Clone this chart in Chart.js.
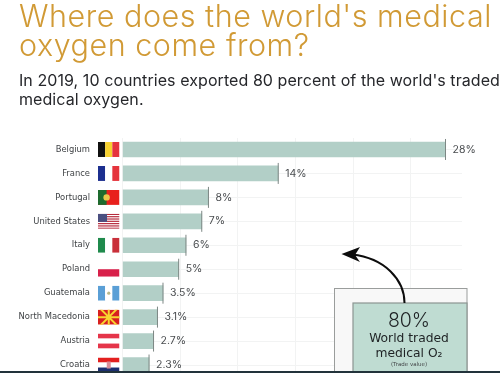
<!DOCTYPE html>
<html>
<head>
<meta charset="utf-8">
<style>
html,body{margin:0;padding:0;background:#fff;width:500px;height:373px;overflow:hidden;position:relative}
.t{position:absolute;left:19px;white-space:nowrap;filter:blur(.3px)}
#h1{top:2px;font:300 30.5px/28.5px "Inter",sans-serif;letter-spacing:.53px;color:#d19a35;}
#h2{top:70.5px;font:400 16px/19.5px "Inter",sans-serif;letter-spacing:.07px;color:#26272b;}
#wrap{position:absolute;left:0;top:130px;width:500px;height:247px;filter:blur(.35px)}
#bar{position:absolute;left:0;top:371px;width:500px;height:2px;background:#22333b}
</style>
<script src="https://cdn.jsdelivr.net/npm/chart.js@4"></script>
</head>
<body>
<div class="t" id="h1">Where does the world's medical<br>oxygen come from?</div>
<div class="t" id="h2">In 2019, 10 countries exported 80 percent of the world's traded<br>medical oxygen.</div>
<div id="wrap"><canvas id="c" width="500" height="247"></canvas></div>
<div id="bar"></div>
<script>
const categories = ["Belgium","France","Portugal","United States","Italy","Poland","Guatemala","North Macedonia","Austria","Croatia"];
const shares = [28,13.5,7.45,6.87,5.5,4.87,3.51,3.03,2.69,2.3];
const shareLabels = ["28%","14%","8%","7%","6%","5%","3.5%","3.1%","2.7%","2.3%"];
const xTicks = [0,5,10,15,20,25];
const flagStripes = [
 {dir:"v",c:["#111111","#f7d130","#e5343d"]},
 {dir:"v",c:["#1c2f8f","#ffffff","#e5343d"]},
 {dir:"p",c:["#1d6b2e","#e8201c"]},
 {dir:"us",c:["#b5283a","#ffffff"]},
 {dir:"v",c:["#1f8a4c","#ffffff","#c9303a"]},
 {dir:"h",c:["#ffffff","#d8204a"]},
 {dir:"v",c:["#5a9fd6","#ffffff","#5a9fd6"]},
 {dir:"mk",c:["#d8201f","#f7d530"]},
 {dir:"h",c:["#e5354a","#ffffff","#e5354a"]},
 {dir:"h",c:["#e3201f","#ffffff","#1c2f6f"]}
];

const extras = {
 id:"extras",
 afterDatasetsDraw(chart){
  const {ctx,scales:{x,y}} = chart;
  ctx.save();
  shares.forEach((v,i)=>{
   const px=x.getPixelForValue(v), py=y.getPixelForValue(i);
   ctx.strokeStyle="#7d8784"; ctx.lineWidth=1;
   ctx.beginPath(); ctx.moveTo(px,py-10.5); ctx.lineTo(px,py+10.5); ctx.stroke();
   ctx.fillStyle="#4a4d50"; ctx.font="10.5px 'Inter',sans-serif";
   ctx.textAlign="left"; ctx.textBaseline="middle";
   ctx.fillText(shareLabels[i],px+7,py);
   drawFlag(ctx,flagStripes[i],98,py-7.5,21.5,15);
  });
  drawCallout(ctx);
  ctx.restore();
 }
};
function drawFlag(ctx,f,fx,fy,w,h){
 ctx.save(); ctx.beginPath(); ctx.rect(fx,fy,w,h); ctx.clip();
 ctx.fillStyle="#fff"; ctx.fillRect(fx,fy,w,h);
 if(f.dir==="v"){f.c.forEach((c,k)=>{ctx.fillStyle=c;ctx.fillRect(fx+k*w/3,fy,w/3,h);});}
 if(f.dir==="h"){f.c.forEach((c,k)=>{ctx.fillStyle=c;ctx.fillRect(fx,fy+k*h/f.c.length,w,h/f.c.length);});}
 if(f.dir==="p"){ctx.fillStyle=f.c[1];ctx.fillRect(fx,fy,w,h);ctx.fillStyle=f.c[0];ctx.fillRect(fx,fy,w*0.4,h);
  ctx.fillStyle="#e8c84a";ctx.beginPath();ctx.arc(fx+w*0.4,fy+h/2,3.2,0,7);ctx.fill();}
 if(f.dir==="us"){for(let k=0;k<7;k++){ctx.fillStyle=f.c[0];ctx.fillRect(fx,fy+k*h*2/13,w,h/13);}
  ctx.fillStyle="#4a4f80";ctx.fillRect(fx,fy,w*0.42,h*7/13);}
 if(f.dir==="mk"){ctx.fillStyle=f.c[0];ctx.fillRect(fx,fy,w,h);ctx.strokeStyle=f.c[1];
  const cx=fx+w/2,cy=fy+h/2;ctx.lineWidth=2;
  for(let a=0;a<8;a++){const t=a*Math.PI/4;ctx.beginPath();ctx.moveTo(cx,cy);ctx.lineTo(cx+Math.cos(t)*w,cy+Math.sin(t)*w);ctx.stroke();}
  ctx.fillStyle=f.c[1];ctx.beginPath();ctx.arc(cx,cy,2.6,0,7);ctx.fill();}
 if(f.c[0]==="#5a9fd6"){ctx.fillStyle="#b9b98a";ctx.beginPath();ctx.arc(fx+w/2,fy+h/2,1.6,0,7);ctx.fill();}
 if(f.c[0]==="#e3201f"){ctx.fillStyle="#d98f9a";ctx.fillRect(fx+w/2-2,fy+h/2-3.5,4,7);}
 ctx.restore();
}
function drawCallout(ctx){
 const oy=-130;
 ctx.translate(0,oy);
 ctx.fillStyle="#f8f8f8"; ctx.strokeStyle="#9a9d9c"; ctx.lineWidth=1;
 ctx.fillRect(334.5,288.5,132.5,100); ctx.strokeRect(334.5,288.5,132.5,100);
 ctx.fillStyle="#bfdcd2"; ctx.strokeStyle="#8c9592"; ctx.lineWidth=1.2;
 ctx.fillRect(353,303,114,90); ctx.strokeRect(353,303,114,90);
 ctx.strokeStyle="#0c0c0c"; ctx.lineWidth=2;
 ctx.beginPath(); ctx.moveTo(404.5,303); ctx.bezierCurveTo(404.5,280,385,258,352,254.5); ctx.stroke();
 ctx.fillStyle="#0c0c0c"; ctx.beginPath(); ctx.moveTo(341.5,254); ctx.lineTo(360,247); ctx.lineTo(355,255); ctx.lineTo(360,262); ctx.closePath(); ctx.fill();
 ctx.textAlign="center"; ctx.textBaseline="middle"; ctx.fillStyle="#1e2224";
 ctx.font="300 19.5px 'Inter',sans-serif"; ctx.fillText("80%",409,321.5);
 ctx.font="12.3px 'DejaVu Sans',sans-serif"; ctx.fillText("World traded",409,339);
 ctx.fillText("medical O₂",409,353.5);
 ctx.font="5.5px 'DejaVu Sans',sans-serif"; ctx.fillStyle="#44484a"; ctx.fillText("(Trade value)",409,364.5);
 ctx.translate(0,-oy);
}

new Chart(document.getElementById("c"),{
 type:"bar",
 data:{labels:categories,datasets:[{data:shares,backgroundColor:"#b2cfc7",barThickness:15,borderWidth:0}]},
 options:{
  indexAxis:"y",responsive:false,animation:false,
  layout:{padding:{top:7.5,right:38,bottom:0,left:0}},
  plugins:{legend:{display:false},tooltip:{enabled:false}},
  scales:{
   x:{position:"top",min:0,max:29.43,
      afterFit(s){s.height=0;s.paddingLeft=0;s.paddingRight=0;},
      afterBuildTicks(s){s.ticks=xTicks.map(v=>({value:v}));},
      ticks:{display:false},border:{display:false},
      grid:{color:"#f2f3f3",lineWidth:1,drawTicks:false}},
   y:{afterFit(s){s.width=122.5;s.paddingTop=0;s.paddingBottom=0;},
      ticks:{color:"#3f4245",font:{size:8.4,family:"'DejaVu Sans',sans-serif"},padding:32.5,autoSkip:false},
      border:{display:false},
      grid:{color:"#f2f3f3",lineWidth:1,drawTicks:false,offset:false}}
  }
 },
 plugins:[extras]
});
</script>
</body>
</html>
